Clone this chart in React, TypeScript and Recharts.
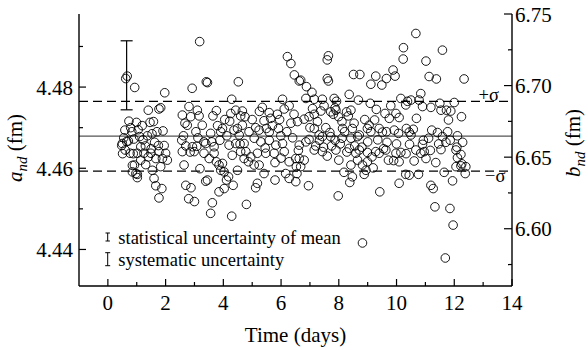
import {
    ScatterChart,
    Scatter,
    XAxis,
    YAxis,
    ReferenceLine,
    ErrorBar,
    Legend,
} from "recharts";

const timeDays = [
    // day 0.4 - 1.1
    0.67, 0.62, 0.93, 0.73, 0.99, 0.59, 0.79, 0.48, 0.51, 0.65, 0.88, 0.85, 1.02,
    0.71, 0.5, 0.77, 0.92, 0.85, 1.02, 0.97, 0.55, 0.6, 0.83, 0.9,
    // day 1 - 2.1
    1.1, 1.14, 1.19, 1.37, 1.46, 1.58, 1.4, 1.77, 1.83, 1.97, 1.91, 1.75, 1.95,
    1.31, 1.49, 1.77, 2.0, 2.06, 1.14, 1.54, 1.83, 1.6, 1.66, 1.87, 1.77, 1.4,
    1.25, 1.02, 1.66, 1.89, 1.3, 1.5, 1.62, 1.22, 1.05, 1.7, 1.53,
    // day 2.4 - 3.5
    2.58, 2.67, 2.75, 2.81, 2.92, 2.56, 3.18, 2.58, 2.64, 2.7, 2.88, 2.8, 3.0,
    3.1, 3.16, 2.87, 3.27, 3.05, 2.93, 3.33, 3.39, 3.19, 3.08, 2.99, 3.33, 3.51,
    2.62, 2.7, 2.85, 3.12,
    // day 3.4 - 4.9
    3.45, 3.41, 3.64, 3.76, 4.22, 4.26, 4.43, 4.66, 4.6, 4.75, 4.66, 4.49, 4.29,
    4.52, 3.56, 3.91, 3.97, 4.37, 4.55, 4.89, 3.68, 3.88, 4.2, 4.43, 4.72, 3.45,
    3.39, 3.62, 3.56, 4.29, 4.8, 4.03, 3.85, 4.34, 4.49, 4.18, 4.11, 4.03, 3.91,
    3.85, 3.76, 3.68, 3.97, 4.31, 4.6, 4.78, 4.95, 4.87, 4.72, 3.8, 4.05, 4.12,
    3.6, 4.58,
    // day 4.9 - 6.7
    5.35, 5.59, 5.64, 5.41, 5.49, 5.87, 6.11, 6.28, 6.45, 6.34, 6.57, 5.12, 5.24,
    5.59, 5.91, 5.99, 5.07, 5.3, 5.59, 5.82, 6.05, 6.63, 6.22, 6.34, 6.46, 6.63,
    6.05, 5.18, 5.12, 5.79, 5.41, 5.79, 6.16, 6.28, 6.51, 6.53, 5.07, 5.24, 5.18,
    5.47, 5.76, 6.11, 6.28, 6.51, 5.0, 5.25, 5.7, 6.2, 6.4, 5.95, 5.45, 6.0,
    // day 6.6 - 10.5
    7.64, 7.6, 7.6, 7.64, 8.51, 8.73, 9.28, 9.11, 9.49, 9.65, 9.88, 9.95, 10.24,
    10.23, 8.36, 8.68, 9.09, 6.68, 6.88, 7.07, 6.86, 7.15, 7.43, 7.49, 7.84, 7.92,
    7.87, 7.38, 7.15, 6.97, 6.8, 7.72, 7.81, 7.99, 8.11, 8.27, 8.33, 8.53, 8.13,
    10.15, 10.38, 9.8, 9.98, 9.75, 10.09, 9.24, 9.05, 8.99, 9.11, 9.4, 9.51, 9.65,
    9.92, 10.07, 10.34, 10.44, 7.15, 7.32, 7.43, 7.69, 7.72, 8.11, 8.42, 8.65,
    8.71, 6.97, 6.86, 7.26, 7.09, 7.9, 8.42, 8.47, 10.32, 6.95, 7.98, 9.42, 10.09,
    10.32, 8.82, 8.38, 8.47, 8.18, 8.88, 8.94, 9.19, 8.36, 8.59, 8.71, 8.99, 9.28,
    9.63, 9.4, 9.98, 10.15, 10.09, 9.72, 9.15, 8.99, 8.65, 8.42, 8.82, 6.8, 6.68,
    6.63, 7.15, 7.43, 7.9, 6.6, 6.55, 7.47, 7.33, 7.87, 8.28, 8.8, 9.55, 9.67, 9.9,
    10.33, 10.45, 7.0, 7.55, 8.2, 8.9, 9.3, 9.6, 10.0, 9.0, 9.35, 7.2, 7.75, 8.05,
    8.55, 7.6, 8.0,
    // day 10.4 - 12.4
    10.67, 11.59, 11.02, 11.13, 11.38, 12.34, 10.84, 10.5, 10.78, 10.9, 11.19,
    11.5, 11.54, 11.73, 11.88, 12.0, 11.8, 12.25, 10.69, 10.58, 11.22, 11.42,
    11.77, 11.59, 12.11, 12.29, 11.71, 11.11, 10.9, 10.5, 10.67, 10.96, 10.84,
    10.61, 11.02, 11.36, 11.54, 12.06, 12.23, 12.11, 12.06, 12.23, 12.4, 12.38,
    11.65, 11.94, 10.76, 10.44, 11.19, 11.27, 11.33, 11.85, 11.96, 11.69, 10.93,
    11.17, 11.46, 11.86, 12.09, 12.26,
];

const aNd = [
    // day 0.4 - 1.1
    4.4827, 4.4821, 4.4799, 4.4716, 4.4713, 4.4694, 4.47, 4.4656, 4.4636, 4.4666,
    4.4636, 4.4607, 4.4585, 4.4667, 4.4661, 4.4637, 4.4608, 4.4591, 4.4577,
    4.4587, 4.4675, 4.4645, 4.469, 4.4672,
    // day 1 - 2.1
    4.4678, 4.4653, 4.4705, 4.468, 4.4713, 4.4715, 4.4743, 4.4746, 4.4749,
    4.4786, 4.4692, 4.4656, 4.4656, 4.4609, 4.4637, 4.4641, 4.4637, 4.462, 4.462,
    4.4595, 4.4604, 4.4575, 4.4557, 4.455, 4.4527, 4.4628, 4.4637, 4.4637,
    4.4624, 4.4624, 4.4655, 4.4648, 4.4664, 4.467, 4.4695, 4.469, 4.4685,
    // day 2.4 - 3.5
    4.4731, 4.4711, 4.4706, 4.4752, 4.4797, 4.4669, 4.4912, 4.4641, 4.4608,
    4.4558, 4.4552, 4.4525, 4.4518, 4.4743, 4.4729, 4.4727, 4.4706, 4.469,
    4.4653, 4.4665, 4.4661, 4.4599, 4.4654, 4.4641, 4.4637, 4.4624, 4.468,
    4.4655, 4.464, 4.4675,
    // day 3.4 - 4.9
    4.4811, 4.4813, 4.4729, 4.4742, 4.4716, 4.4735, 4.4743, 4.4741, 4.4729,
    4.4727, 4.4706, 4.4698, 4.477, 4.4813, 4.4686, 4.469, 4.4698, 4.4694, 4.4682,
    4.469, 4.4653, 4.4669, 4.4657, 4.4661, 4.4661, 4.4571, 4.4568, 4.4515,
    4.4489, 4.4482, 4.4511, 4.455, 4.4542, 4.4558, 4.4595, 4.4579, 4.4571,
    4.4591, 4.4595, 4.4608, 4.4616, 4.4637, 4.4612, 4.4632, 4.4641, 4.4641,
    4.4628, 4.4616, 4.4624, 4.4705, 4.472, 4.468, 4.4665, 4.466,
    // day 4.9 - 6.7
    4.475, 4.4737, 4.4723, 4.4717, 4.4698, 4.4733, 4.4746, 4.4754, 4.4733,
    4.4711, 4.4715, 4.47, 4.4694, 4.4689, 4.4698, 4.468, 4.4674, 4.4665, 4.4669,
    4.4657, 4.4661, 4.4657, 4.4875, 4.4858, 4.483, 4.4815, 4.477, 4.4563, 4.4552,
    4.4571, 4.4587, 4.4614, 4.4587, 4.4575, 4.4567, 4.4604, 4.4608, 4.4608,
    4.4637, 4.4637, 4.4637, 4.4641, 4.4616, 4.4624, 4.472, 4.474, 4.4705, 4.469,
    4.4675, 4.472, 4.465, 4.4625,
    // day 6.6 - 10.5
    4.4877, 4.4867, 4.4821, 4.4815, 4.4831, 4.4831, 4.4827, 4.4807, 4.4805,
    4.4821, 4.4842, 4.4827, 4.4897, 4.4869, 4.4782, 4.4768, 4.476, 4.4817,
    4.4801, 4.4787, 4.4772, 4.477, 4.477, 4.4754, 4.4772, 4.4765, 4.4749, 4.4741,
    4.4733, 4.4727, 4.4721, 4.4739, 4.4733, 4.4727, 4.4715, 4.4739, 4.4729,
    4.4711, 4.4698, 4.4772, 4.4765, 4.4754, 4.4735, 4.4723, 4.4725, 4.4719,
    4.4706, 4.4698, 4.469, 4.4698, 4.4689, 4.469, 4.4694, 4.4686, 4.4698, 4.4689,
    4.4698, 4.4682, 4.4678, 4.4688, 4.4678, 4.4674, 4.4674, 4.4678, 4.4682,
    4.4671, 4.4665, 4.4715, 4.4747, 4.4743, 4.4743, 4.4698, 4.4756, 4.4557,
    4.4532, 4.4542, 4.4563, 4.4585, 4.4416, 4.4565, 4.4579, 4.459, 4.4585, 4.4595,
    4.4601, 4.4649, 4.4637, 4.4645, 4.4639, 4.4641, 4.4645, 4.4637, 4.4637,
    4.4639, 4.4616, 4.462, 4.4628, 4.4616, 4.462, 4.4608, 4.4608, 4.462, 4.4604,
    4.4624, 4.4645, 4.4641, 4.4645, 4.4644, 4.4587, 4.4652, 4.4669, 4.4669,
    4.464, 4.4652, 4.4648, 4.4664, 4.4619, 4.4636, 4.4659, 4.47, 4.47, 4.469,
    4.472, 4.4745, 4.4735, 4.466, 4.4665, 4.467, 4.4655, 4.4655, 4.466, 4.4655,
    4.463, 4.462,
    // day 10.4 - 12.4
    4.4932, 4.4891, 4.4864, 4.4826, 4.482, 4.482, 4.4784, 4.4768, 4.4768, 4.4752,
    4.475, 4.476, 4.4743, 4.4743, 4.4741, 4.4762, 4.4719, 4.4727, 4.4723, 4.4696,
    4.4694, 4.4688, 4.469, 4.4678, 4.468, 4.4664, 4.4664, 4.4674, 4.4659, 4.4682,
    4.4645, 4.4641, 4.4637, 4.4618, 4.4624, 4.4614, 4.4646, 4.4645, 4.4634,
    4.4626, 4.4604, 4.4606, 4.4604, 4.4587, 4.459, 4.4569, 4.4585, 4.4583,
    4.4558, 4.455, 4.4505, 4.4501, 4.446, 4.4379, 4.4669, 4.4644, 4.466, 4.4669,
    4.4652, 4.4611,
];

// mean and one standard deviation
const meanA = 4.4679;
const sigmaA = 0.0086;

// systematic uncertainty bar drawn on the first run
const sysDay = [0.65];
const sysA = [4.4829];
const sysHalf = [0.0085];

const xTicks = [0, 1, 2, 3, 4, 5, 6, 7, 8, 9, 10, 11, 12, 13, 14];
const aTicks = [4.44, 4.45, 4.46, 4.47, 4.48, 4.49];
const bTicks = [6.575, 6.6, 6.625, 6.65, 6.675, 6.7, 6.725, 6.75];

const FONT = "'Liberation Serif', 'DejaVu Serif', serif";
const txt = { fontFamily: FONT };

const points = timeDays.map((d, i) => ({ x: d, y: aNd[i] }));
const sysPoint = sysDay.map((d, i) => ({ x: d, y: sysA[i], err: sysHalf[i] }));

const LeftTick = (props: any) => {
    const { x, y, payload } = props;
    const v = payload.value;
    const major = Math.round(v * 100) % 2 === 0;
    return (
        <g>
            <line x1={x} y1={y} x2={x + (major ? 7 : 4)} y2={y} stroke="#000" strokeWidth={1.2} />
            {major && (
                <text x={x - 6} y={y + 7.5} textAnchor="end" fontSize={21} style={txt} fill="#000">
                    {v.toFixed(2)}
                </text>
            )}
        </g>
    );
};

const RightTick = (props: any) => {
    const { x, y, payload } = props;
    const v = payload.value;
    const major = Math.round(v * 1000) % 50 === 0;
    return (
        <g>
            <line x1={x} y1={y} x2={x - (major ? 8 : 4)} y2={y} stroke="#000" strokeWidth={1.2} />
            {major && (
                <text x={x + 3} y={y + 7.5} textAnchor="start" fontSize={21} style={txt} fill="#000">
                    {v.toFixed(2)}
                </text>
            )}
        </g>
    );
};

const BottomTick = (props: any) => {
    const { x, y, payload } = props;
    const v = payload.value;
    const major = v % 2 === 0;
    return (
        <g>
            <line x1={x} y1={y} x2={x} y2={y - (major ? 7 : 4)} stroke="#000" strokeWidth={1.2} />
            {major && (
                <text x={x} y={y + 24} textAnchor="middle" fontSize={21} style={txt} fill="#000">
                    {v}
                </text>
            )}
        </g>
    );
};

const TopTick = (props: any) => {
    const { x, y, payload } = props;
    const major = payload.value % 2 === 0;
    return <line x1={x} y1={y} x2={x} y2={y + (major ? 7 : 4)} stroke="#000" strokeWidth={1.2} />;
};

const LeftTitle = (props: any) => {
    const { viewBox } = props;
    const cx = viewBox.x + 21.5;
    const cy = viewBox.y + viewBox.height / 2 - 2;
    return (
        <text x={cx} y={cy} transform={`rotate(-90 ${cx} ${cy})`} textAnchor="middle" fontSize={21} style={txt} fill="#000">
            <tspan fontStyle="italic">a</tspan>
            <tspan fontStyle="italic" fontSize={15} dy={5}>nd</tspan>
            <tspan dy={-5}> (fm)</tspan>
        </text>
    );
};

const RightTitle = (props: any) => {
    const { viewBox } = props;
    const cx = viewBox.x + 68;
    const cy = viewBox.y + viewBox.height / 2 - 7;
    return (
        <text x={cx} y={cy} transform={`rotate(-90 ${cx} ${cy})`} textAnchor="middle" fontSize={21} style={txt} fill="#000">
            <tspan fontStyle="italic">b</tspan>
            <tspan fontStyle="italic" fontSize={15} dy={5}>nd</tspan>
            <tspan dy={-5}> (fm)</tspan>
        </text>
    );
};

const BottomTitle = (props: any) => {
    const { viewBox } = props;
    return (
        <text x={viewBox.x + viewBox.width / 2} y={viewBox.y + 56} textAnchor="middle" fontSize={21} style={txt} fill="#000">
            Time (days)
        </text>
    );
};

const SigmaLabel = (props: any) => {
    const { viewBox, text, right, down } = props;
    return (
        <text x={viewBox.x + viewBox.width - right} y={viewBox.y + down} textAnchor="end" fontSize={18.5} style={txt} fill="#000">
            {text}
        </text>
    );
};

const Circle = (props: any) => (
    <circle cx={props.cx} cy={props.cy} r={4.3} fill="none" stroke="#000" strokeWidth={0.9} />
);

const UncertaintyLegend = () => (
    <svg width={260} height={50} style={{ display: "block" }}>
        <g stroke="#000" strokeWidth={1}>
            <line x1={7.7} y1={8} x2={7.7} y2={16} />
            <line x1={5.5} y1={8} x2={9.9} y2={8} />
            <line x1={5.5} y1={16} x2={9.9} y2={16} />
            <line x1={7.7} y1={27.7} x2={7.7} y2={40.7} />
            <line x1={5.2} y1={27.7} x2={10.2} y2={27.7} />
            <line x1={5.2} y1={40.7} x2={10.2} y2={40.7} />
        </g>
        <text x={18.3} y={19} fontSize={18.5} style={txt} fill="#000">
            statistical uncertainty of mean
        </text>
        <text x={18.3} y={41} fontSize={18.5} style={txt} fill="#000">
            systematic uncertainty
        </text>
    </svg>
);

export default function App() {
    return (
        <div style={{ position: "absolute", left: 0, top: 0, fontFamily: FONT }}>
            <ScatterChart
                width={588}
                height={350}
                margin={{ top: 14, right: 0, bottom: 0, left: 0 }}
                style={{ fontFamily: FONT }}
            >
                <XAxis
                    type="number"
                    dataKey="x"
                    domain={[-1, 14]}
                    allowDataOverflow
                    ticks={xTicks}
                    interval={0}
                    height={64}
                    tickSize={0}
                    tickMargin={0}
                    tickLine={false}
                    tick={<BottomTick />}
                    axisLine={{ stroke: "#000", strokeWidth: 1.4 }}
                    label={<BottomTitle />}
                />
                <XAxis
                    xAxisId="top"
                    orientation="top"
                    type="number"
                    domain={[-1, 14]}
                    allowDataOverflow
                    ticks={xTicks}
                    interval={0}
                    height={0}
                    tickSize={0}
                    tickMargin={0}
                    tickLine={false}
                    tick={<TopTick />}
                    axisLine={{ stroke: "#000", strokeWidth: 1.4 }}
                />
                <YAxis
                    type="number"
                    dataKey="y"
                    domain={[4.431, 4.498]}
                    allowDataOverflow
                    ticks={aTicks}
                    interval={0}
                    width={79}
                    tickSize={0}
                    tickMargin={0}
                    tickLine={false}
                    tick={<LeftTick />}
                    axisLine={{ stroke: "#000", strokeWidth: 1.4 }}
                    label={<LeftTitle />}
                />
                <YAxis
                    yAxisId="right"
                    orientation="right"
                    type="number"
                    domain={[6.56, 6.75]}
                    allowDataOverflow
                    ticks={bTicks}
                    interval={0}
                    width={76}
                    tickSize={0}
                    tickMargin={0}
                    tickLine={false}
                    tick={<RightTick />}
                    axisLine={{ stroke: "#000", strokeWidth: 1.4 }}
                    label={<RightTitle />}
                />
                <ReferenceLine y={meanA} stroke="#555" strokeWidth={1.2} />
                <ReferenceLine
                    y={meanA + sigmaA}
                    stroke="#000"
                    strokeWidth={1.2}
                    strokeDasharray="9 5"
                    label={<SigmaLabel text="+σ" right={13} down={0} />}
                />
                <ReferenceLine
                    y={meanA - sigmaA}
                    stroke="#000"
                    strokeWidth={1.2}
                    strokeDasharray="9 5"
                    label={<SigmaLabel text="−σ" right={6.5} down={11} />}
                />
                <Scatter data={points} shape={<Circle />} isAnimationActive={false} />
                <Scatter data={sysPoint} shape={() => <g />} isAnimationActive={false}>
                    <ErrorBar dataKey="err" direction="y" width={6} stroke="#000" strokeWidth={1.2} />
                </Scatter>
                <Legend
                    layout="horizontal"
                    verticalAlign="middle"
                    align="center"
                    wrapperStyle={{ left: 100, top: 225, width: 260, height: 50 }}
                    content={<UncertaintyLegend />}
                />
            </ScatterChart>
        </div>
    );
}
